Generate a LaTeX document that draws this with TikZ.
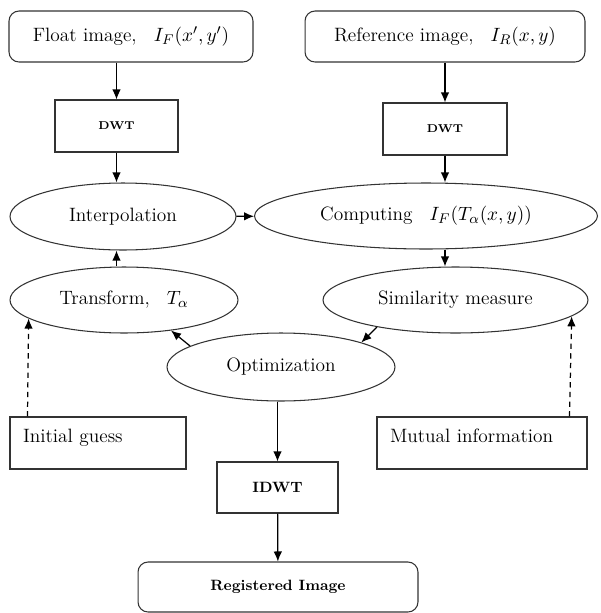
\documentclass[tikz,border=0pt]{standalone}
\usetikzlibrary{shapes.geometric,arrows.meta}
\tikzset{
	box/.style={draw=black!80,line width=0.6pt,rectangle,inner sep=0pt,font=\fontsize{11}{13}\selectfont},
	roundbox/.style={box,rounded corners=0.2cm},
	oval/.style={draw=black!80,line width=0.6pt,ellipse,inner sep=0pt,font=\fontsize{11}{13}\selectfont},
	flow/.style={line width=0.7pt,-{Latex[length=2mm,width=1.7mm]}},
	dashflow/.style={flow,dash pattern=on 3pt off 2.5pt}
}
\begin{document}
\begin{tikzpicture}[x=0.02cm,y=-0.02cm]
			\useasboundingbox (0,0) rectangle (600,613);
			% top row
			\node[roundbox,minimum width=4.88cm,minimum height=1.02cm] (float) at (131,36.5) {Float image,\;\; $I_F(x',y')$};
			\node[roundbox,minimum width=5.6cm,minimum height=1.02cm] (ref) at (445,36.5) {Reference image,\;\; $I_R(x,y)$};
			\node[box,minimum width=2.46cm,minimum height=1.04cm,font=\fontsize{6.5}{8}\selectfont\bfseries] (dwtL) at (116.5,126) {DWT};
			\node[box,minimum width=2.48cm,minimum height=1.04cm,font=\fontsize{6.5}{8}\selectfont\bfseries] (dwtR) at (445,129) {DWT};
			% ellipses
			\node[oval,minimum width=4.52cm,minimum height=1.34cm] (interp) at (123,216.5) {Interpolation};
			\node[oval,minimum width=6.86cm,minimum height=1.32cm] (comp) at (426,216) {Computing\;\; $I_F(T_\alpha(x,y))$};
			\node[oval,minimum width=4.56cm,minimum height=1.32cm] (trans) at (124,300) {Transform,\;\; $T_\alpha$};
			\node[oval,minimum width=5.3cm,minimum height=1.32cm] (sim) at (455.5,300) {Similarity measure};
			\node[oval,minimum width=4.56cm,minimum height=1.36cm] (opt) at (281,367) {Optimization};
			% bottom
			\node[box,minimum width=3.52cm,minimum height=1.04cm,text width=3.0cm,align=left,text depth=0.3cm] (init) at (98,443) {Initial guess};
			\node[box,minimum width=4.2cm,minimum height=1.04cm,text width=3.68cm,align=left,text depth=0.3cm] (mutual) at (482,443) {Mutual information};
			\node[box,minimum width=2.42cm,minimum height=1.02cm,font=\fontsize{8.5}{10}\selectfont\bfseries] (idwt) at (277.5,487.5) {IDWT};
			\node[roundbox,minimum width=5.6cm,minimum height=1.0cm,font=\fontsize{8.5}{10}\selectfont\bfseries] (reg) at (278,587) {Registered Image};
			% connectors
			\draw[flow] (float.south -| dwtL) -- (dwtL);
			\draw[flow] (ref.south -| dwtR) -- (dwtR);
			\draw[flow] (dwtL) -- (interp.north -| dwtL);
			\draw[flow] (dwtR) -- (comp.north -| dwtR);
			\draw[flow] (interp) -- (comp);
			\draw[flow] (trans.north -| dwtL) -- (interp.south -| dwtL);
			\draw[flow] (comp.south -| dwtR) -- (sim.north -| dwtR);
			\draw[flow] (sim.199) -- (opt.17);
			\draw[flow] (opt.167) -- (trans.-33);
			\draw[flow] (opt.south -| idwt) -- (idwt);
			\draw[flow] (idwt) -- (reg);
			\draw[dashflow] ([xshift=0.36cm]init.north west) -- (trans.191);
			\draw[dashflow] ([xshift=-0.36cm]mutual.north east) -- (sim.-8.5);
		\end{tikzpicture}
\end{document}
